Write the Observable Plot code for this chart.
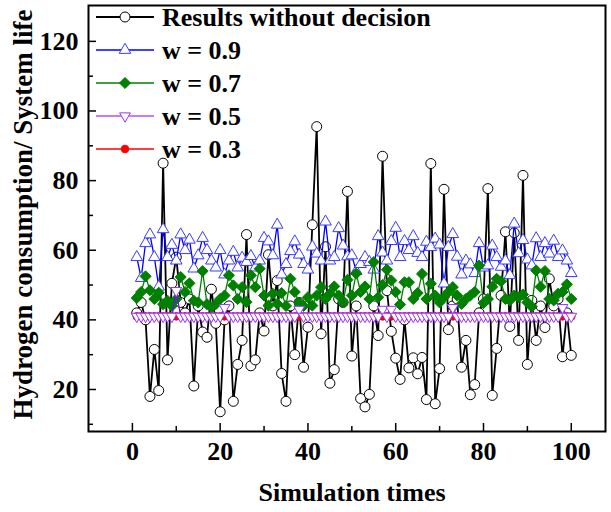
<!DOCTYPE html>
<html><head><meta charset="utf-8">
<script src="https://cdn.jsdelivr.net/npm/d3@7"></script>
<script src="https://cdn.jsdelivr.net/npm/@observablehq/plot@0.6"></script>
<style>
body{margin:0;background:#fff;}
#wrap{position:relative;width:611px;height:512px;background:#fff;}
#legend{position:absolute;left:0;top:0;pointer-events:none;}
</style></head><body><div id="wrap"></div>
<script>
// Simulation index (x)
const simTimes = [1,2,3,4,5,6,7,8,9,10,11,12,13,14,15,16,17,18,19,20,21,22,23,24,25,26,27,28,29,30,31,32,33,34,35,36,37,38,39,40,41,42,43,44,45,46,47,48,49,50,51,52,53,54,55,56,57,58,59,60,61,62,63,64,65,66,67,68,69,70,71,72,73,74,75,76,77,78,79,80,81,82,83,84,85,86,87,88,89,90,91,92,93,94,95,96,97,98,99,100];

const noDecision = [42,45,40,18,31.5,19.7,85,28.5,50.5,58,
45,42,46,21,44,36.5,35,48.8,39,13.6,
40,44,16.6,27.2,34.1,64.5,26.8,28.5,42,36.8,
58.7,44,51.3,24.6,16.6,44,30,45,26.4,37.9,
67.3,95.5,36,61,21.8,25.7,46,45,76.9,29.6,
44,17.4,15,18.6,44,35.5,87,48.4,36.7,29,
22.9,40,26.2,29.1,24.5,29.2,17.1,84.9,15.9,26,
77.5,37.2,44,46,26.4,34.1,18.5,21.4,42,46,
77.7,18.3,31.8,47,65.3,38.1,65,34.1,81.5,27.2,
45.6,34.1,44,37.8,51.8,44,46,29.4,42,29.8];

const w09 = [58,52,62,64.5,58,49.5,66,58,61.5,57,
64.5,60,63,54.7,58.5,63.5,60,57,55,60,
53,57,59.5,55,57.8,56.6,58.3,55,57,63.5,
62.5,58.5,67.3,53,56,59.7,62.5,58.7,56,54.4,
61,59,57,68.2,57,58,66.3,61.3,58.2,58.5,
54,56,58,56.6,54.4,64,59.3,57,62.6,66.4,
58,62.6,60,64,59.2,58,62.4,60.9,63.3,61.6,
50.4,60.9,64.6,58.1,53,57,55.9,53.4,62,55,
55.6,61.3,58,55.2,57,52.8,67.6,59.1,62.9,57.3,
55.6,63.4,58,62,59,62.7,58,59.9,57,53.4];

const w07 = [46.3,48,52.5,48.5,46,47.8,44.5,45.5,44,46,
52.3,48,50.5,45.5,45,54,44.5,43.6,44.5,46,
47,52.8,49.9,46,49.4,45.1,52.8,49.4,54.7,47,
44.1,47.5,44.6,47.7,44,51.8,48,45,44,46.5,
44.1,47,49.4,46,47.5,49.6,47,45,51.5,47,
53.3,48,49.6,46,56.6,46.5,50,54.4,51.3,48,
44.4,50.8,50.8,46,47.7,53.2,46,50.4,47,45,
46.5,48,49.4,47,44.6,46,47,48,55.6,44.8,
46,49.5,51.8,51.1,46,45.6,47,46.5,47.3,45,
43.8,54.2,49.5,54,46,45.6,47.5,48,50.2,46];

const w05 = [41,41,41,41,41,41,41,41,41,48.4,
41,41,41,41,41,41,41,41,41,41,
43.5,41,41,41,41,41,41,41,41,41,
41,41,41,41,41,41,41,43,41,41,
41,41,41,41,41,41,41,41,41,41,
41,41,41,41,41,41,43,41,43,41,
41,41,41,41,41,41,41,41,41,41,
41,41,43.5,41,41,41,41,41,41,41,
41,41,41,41,41,41,41,41,41,41,
41,41,41,41,41,41,41,43.5,41,41];

const w03 = [41,41,41,41,41,41,41,41,41,41,
41,41,41,41,41,41,41,41,41,41,
41,41,41,41,41,41,41,41,41,41,
41,41,41,41,41,41,41,41,41,41,
41,41,41,41,41,41,41,41,41,41,
41,41,41,41,41,41,41,41,41,41,
41,41,41,41,41,41,41,41,41,41,
41,41,41,41,41,41,41,41,41,41,
41,41,41,41,41,41,41,41,41,41,
41,41,41,41,41,41,41,41,41,41];

const seriesNames = ["Results without decision","w = 0.9","w = 0.7","w = 0.5","w = 0.3"];
const xMajor = [0,20,40,60,80,100];
const xMinor = [10,30,50,70,90];
const yMajor = [20,40,60,80,100,120];
const yMinor = [10,30,50,70,90,110];

const styles = [
  {stroke:"#000000", lw:1.8, symbol:"circle", fill:"white", r:5.0, rotate:0, mstroke:"#000000", msw:1},
  {stroke:"#0000ff", lw:1.3, symbol:"triangle", fill:"white", r:4.3, rotate:0, mstroke:"#3a3aff", msw:1},
  {stroke:"#008000", lw:1.3, symbol:"diamond2", fill:"#008000", r:5.0, rotate:0, mstroke:"#008000", msw:1},
  {stroke:"#8000ff", lw:1.2, symbol:"triangle", fill:"white", r:4.0, rotate:180, mstroke:"#9933ff", msw:1},
  {stroke:"#ff0000", lw:1.5, symbol:"circle", fill:"#ff0000", r:3.8, rotate:0, mstroke:"#ff0000", msw:1}
];
const seriesValues = [noDecision, w09, w07, w05, w03];
const tables = seriesValues.map((vals) => simTimes.map((t, i) => ({t, v: vals[i]})));

// draw order: black, blue, green, red, purple
const order = [0,1,2,4,3];
const dataMarks = order.flatMap(k => {
  const s = styles[k];
  return [
    Plot.line(tables[k], {x:"t", y:"v", stroke:s.stroke, strokeWidth:s.lw}),
    Plot.dot(tables[k], {x:"t", y:"v", symbol:s.symbol, r:s.r, fill:s.fill, stroke:s.mstroke, strokeWidth:s.msw, rotate:s.rotate})
  ];
});

const font = {fontFamily:"Liberation Serif", fontWeight:"bold", fontSize:26, fill:"black"};

const chart = Plot.plot({
  width: 611, height: 512,
  marginLeft: 88, marginRight: 6, marginTop: 5, marginBottom: 81,
  x: {domain: [-10, 107.8]},
  y: {domain: [7.93, 130.3]},
  style: {background: "white", color: "black", overflow: "visible"},
  marks: [
    ...dataMarks,
    Plot.axisX(xMajor, {anchor:"bottom", tickSize:0, tickPadding:10, label:null, ...font}),
    Plot.axisX(xMajor, {anchor:"bottom", tickSize:8, dy:-8, tickFormat:() => "", label:null, strokeWidth:1.5}),
    Plot.axisX(xMinor, {anchor:"bottom", tickSize:5, dy:-5, tickFormat:() => "", label:null, strokeWidth:1.5}),
    Plot.axisY(yMajor, {anchor:"left", tickSize:0, tickPadding:10, label:null, ...font}),
    Plot.axisY(yMajor, {anchor:"left", tickSize:8, dx:8, tickFormat:() => "", label:null, strokeWidth:1.5}),
    Plot.axisY(yMinor, {anchor:"left", tickSize:5, dx:5, tickFormat:() => "", label:null, strokeWidth:1.5}),
    Plot.frame({stroke:"black", strokeWidth:2}),
    Plot.text(["Simulation times"], {text:d => d, frameAnchor:"bottom", lineAnchor:"middle", textAnchor:"middle", dy:61, dx:5, ...font}),
    Plot.text(["Hydrogen consumption/ System life"], {text:d => d, frameAnchor:"left", lineAnchor:"middle", textAnchor:"middle", dx:-65, dy:-4, rotate:-90, ...font, fontSize:27})
  ]
});

const wrap = document.getElementById("wrap");
wrap.appendChild(chart);

// Legend overlay (inside plot frame, top-left)
const leg = d3.select(wrap).append("svg").attr("id","legend").attr("width",611).attr("height",512);
const rowY = [17, 50, 83, 116, 149];
const symMap = {circle:d3.symbolCircle, triangle:d3.symbolTriangle, diamond2:d3.symbolDiamond2};
seriesNames.forEach((name, k) => {
  const s = styles[k];
  const g = leg.append("g").attr("transform", `translate(0,${rowY[k]})`);
  g.append("line").attr("x1",96).attr("x2",154).attr("y1",0).attr("y2",0).attr("stroke",s.stroke).attr("stroke-width",s.lw);
  g.append("path").attr("d", d3.symbol(symMap[s.symbol], Math.PI*s.r*s.r)())
    .attr("transform", `translate(125,0) rotate(${s.rotate})`)
    .attr("fill", s.fill).attr("stroke", s.mstroke).attr("stroke-width", s.msw);
  g.append("text").attr("x",162).attr("y",8.5).text(name)
    .attr("font-family","Liberation Serif").attr("font-weight","bold").attr("font-size",26).attr("fill","black");
});
</script>
</body></html>
